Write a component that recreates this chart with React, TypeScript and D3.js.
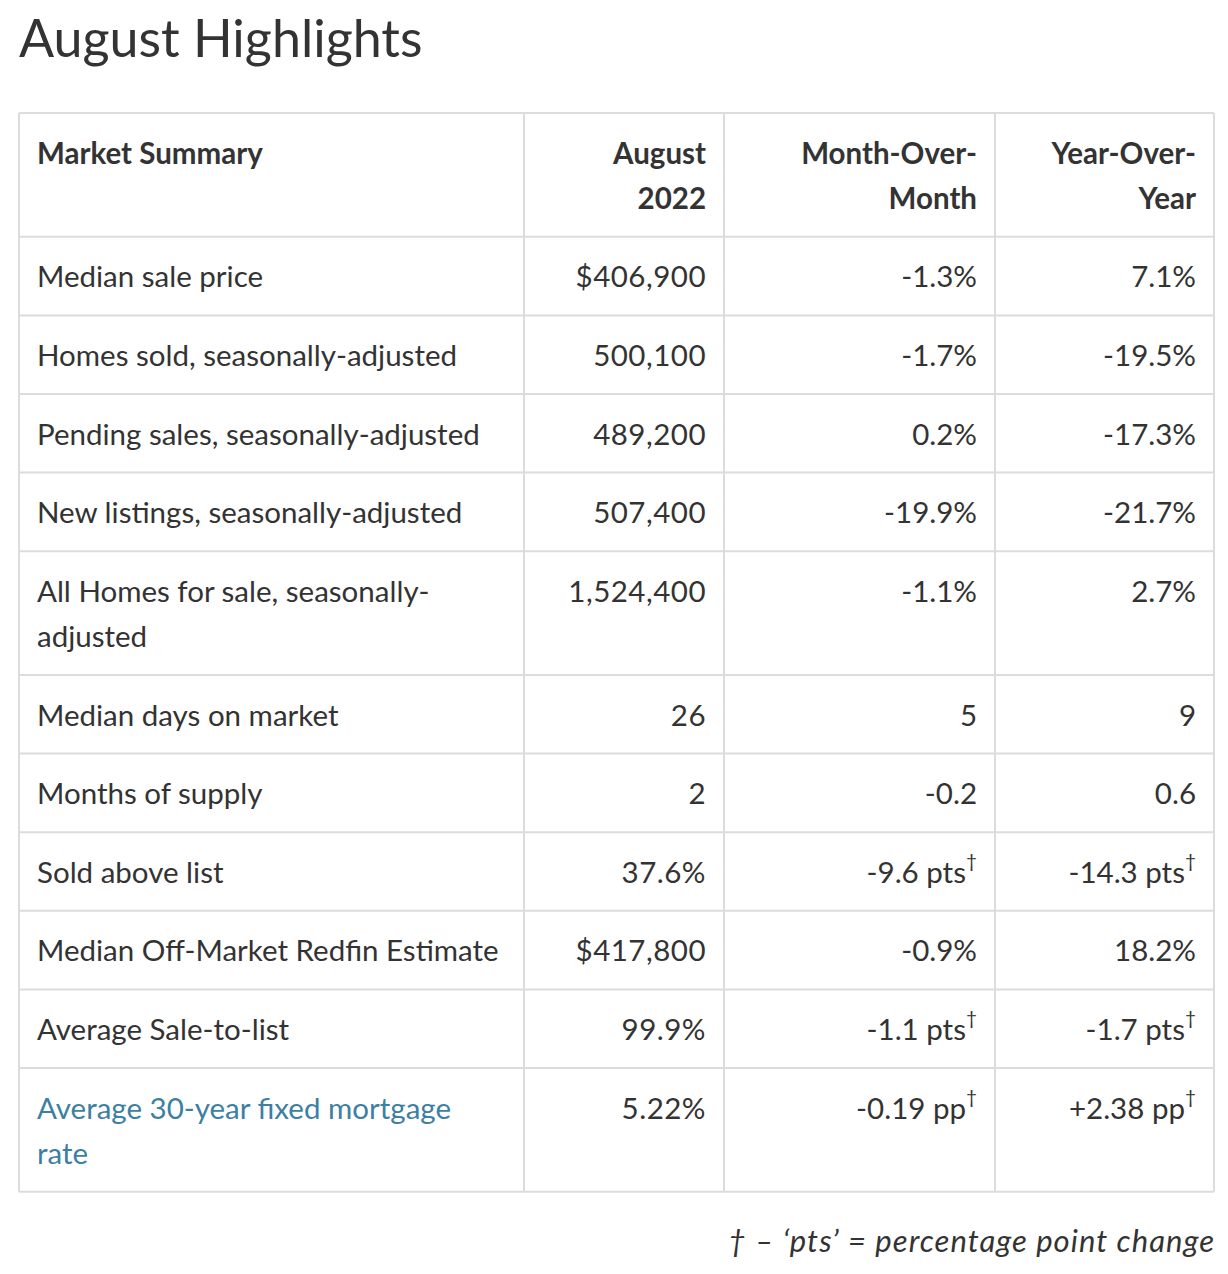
import React from "react";
import * as d3 from "d3";

const title = "August Highlights";
const headers = ["Market Summary", "August\n2022", "Month-Over-\nMonth", "Year-Over-\nYear"];
const metrics = [
  "Median sale price",
  "Homes sold, seasonally-adjusted",
  "Pending sales, seasonally-adjusted",
  "New listings, seasonally-adjusted",
  "All Homes for sale, seasonally-\nadjusted",
  "Median days on market",
  "Months of supply",
  "Sold above list",
  "Median Off-Market Redfin Estimate",
  "Average Sale-to-list",
  "Average 30-year fixed mortgage\nrate",
];
const august = ["$406,900", "500,100", "489,200", "507,400", "1,524,400", "26", "2", "37.6%", "$417,800", "99.9%", "5.22%"];
const monthOverMonth = ["-1.3%", "-1.7%", "0.2%", "-19.9%", "-1.1%", "5", "-0.2", "-9.6 pts†", "-0.9%", "-1.1 pts†", "-0.19 pp†"];
const yearOverYear = ["7.1%", "-19.5%", "-17.3%", "-21.7%", "2.7%", "9", "0.6", "-14.3 pts†", "18.2%", "-1.7 pts†", "+2.38 pp†"];
const linkRows = [10];
const footnote = "† – ‘pts’ = percentage point change";

const W = 1228;
const H = 1274;
const FONT = "Lato, 'Open Sans', sans-serif";
const TEXT = "#333333";
const LINK = "#3d7fa3";
const BORDER = "#dcdcdc";

const colEdges = [19, 524, 724, 995, 1214];
const tableTop = 113;
const baseRowH = 78.6;
const lineStep = 45.2;
const padX = 18;
const firstLineOffset = 39;
const fontSize = 29.5;

function Cell({ text, x, y, anchor, color, weight, spacing }: any) {
  const lines = text.split("\n");
  return (
    <g>
      {lines.map((ln: string, i: number) => {
        const hasDagger = ln.endsWith("†");
        const main = hasDagger ? ln.slice(0, -1) : ln;
        return (
          <text
            key={i}
            x={x}
            y={y + i * lineStep}
            textAnchor={anchor}
            dominantBaseline="central"
            fill={color}
            fontFamily={FONT}
            fontSize={fontSize}
            fontWeight={weight}
            letterSpacing={spacing}
          >
            {main}
            {hasDagger && (
              <tspan fontSize={19} dy={-11}>†</tspan>
            )}
          </text>
        );
      })}
    </g>
  );
}

export default function App() {
  const rows = [headers, ...metrics.map((m, i) => [m, august[i], monthOverMonth[i], yearOverYear[i]])];
  const nLines = rows.map((r) => d3.max(r, (c) => c.split("\n").length) as number);
  const heights = nLines.map((n) => baseRowH + (n - 1) * lineStep);
  const tops: number[] = [];
  let acc = tableTop;
  heights.forEach((h) => {
    tops.push(acc);
    acc += h;
  });
  const tableBottom = acc;

  return (
    <svg
      width={W}
      height={H}
      style={{ position: "absolute", left: 0, top: 0, background: "#fff" }}
    >
      <rect x={0} y={0} width={W} height={H} fill="#fff" />
      <text x={19} y={37} dominantBaseline="central" fontFamily={FONT} fontSize={52} fill={TEXT}>
        {title}
      </text>
      {[...tops, tableBottom].map((y, i) => (
        <line key={"h" + i} x1={colEdges[0]} x2={colEdges[4]} y1={y} y2={y} stroke={BORDER} strokeWidth={2} />
      ))}
      {colEdges.map((x, i) => (
        <line key={"v" + i} x1={x} x2={x} y1={tableTop} y2={tableBottom} stroke={BORDER} strokeWidth={2} />
      ))}
      {rows.map((r, ri) =>
        r.map((c, ci) => {
          const isLeft = ci === 0;
          const x = isLeft ? colEdges[0] + padX : colEdges[ci + 1] - padX;
          const color = ri > 0 && ci === 0 && linkRows.includes(ri - 1) ? LINK : TEXT;
          return (
            <Cell
              key={ri + "-" + ci}
              text={c}
              x={x}
              y={tops[ri] + firstLineOffset}
              anchor={isLeft ? "start" : "end"}
              color={color}
              weight={ri === 0 ? 700 : 400}
              spacing={ri > 0 && ci === 1 ? 0.5 : 0}
            />
          );
        })
      )}
      <text
        x={1214}
        y={1240}
        textAnchor="end"
        dominantBaseline="central"
        fontFamily={FONT}
        fontStyle="italic"
        fontSize={31}
        fill={TEXT}
        textLength={486}
        lengthAdjust="spacing"
      >
        {footnote}
      </text>
    </svg>
  );
}
